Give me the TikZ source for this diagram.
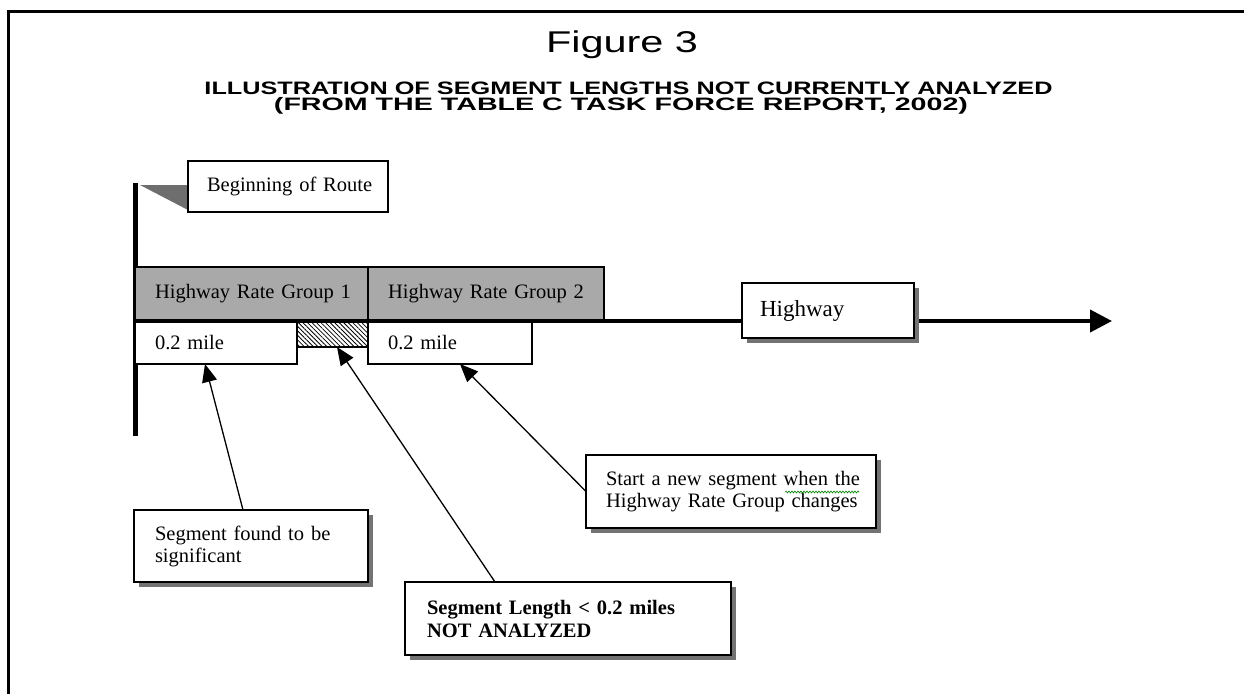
\documentclass[tikz,border=0pt]{standalone}
\usepackage{fontspec}
\usepackage{graphicx}
\setmainfont{Liberation Serif}[WordSpace=0.7]
\newfontfamily\titlefont{Liberation Sans}
\usetikzlibrary{arrows.meta,patterns.meta,shadows,decorations.pathmorphing}
\begin{document}
\begin{tikzpicture}[x=1pt,y=-1pt,
  every node/.style={inner sep=0pt, outer sep=0pt},
  box/.style={draw=black, line width=1.5pt, fill=white, align=left, inner ysep=0pt,
    font=\fontsize{20.5}{22}\selectfont},
  barbox/.style={box, fill=bargray},
  shadowed/.style={drop shadow={shadow xshift=5pt, shadow yshift=-5pt, fill=black!55, opacity=1}},
  callout/.style={line width=1.3pt, -{Triangle[length=18pt,width=15pt]}},
]
\definecolor{bargray}{HTML}{A9A9A9}
\definecolor{flaggray}{HTML}{6E6E6E}
\useasboundingbox (0,0) rectangle (1244,694);
% frame
\draw[line width=3pt] (8,694) -- (8,11) -- (1244,11);
% titles
\node (fig) at (622,45) {\resizebox{152pt}{\height}{\titlefont\fontsize{30}{30}\selectfont Figure 3}};
\node (sub1) at (628.5,88) {\resizebox{848pt}{\height}{\titlefont\bfseries\fontsize{18}{18}\selectfont ILLUSTRATION OF SEGMENT LENGTHS NOT CURRENTLY ANALYZED}};
\node (sub2) at (621,106) {\resizebox{694pt}{\height}{\titlefont\bfseries\fontsize{18}{18}\selectfont (FROM THE TABLE C TASK FORCE REPORT, 2002)}};
% pole and flag
\coordinate (poletop) at (135,183);
\coordinate (polebot) at (135,436);
\draw[line width=5pt] (poletop) -- (polebot);
\fill[flaggray] (140,185) -- (188,185) -- (188,210) -- cycle;
\node[box, minimum width=200pt, minimum height=51pt, text width=162pt, inner xsep=19pt] (begin) at (288,186.5) {\mbox{Beginning of Route}};
% rate group bar
\node[barbox, minimum width=233pt, minimum height=54pt, text width=193pt, inner xsep=20pt] (hrg1) at (251.5,294) {\mbox{Highway Rate Group 1}};
\node[barbox, minimum width=236pt, minimum height=54pt, text width=196pt, inner xsep=20pt] (hrg2) at (486,294) {\mbox{Highway Rate Group 2}};
% segments
\node[box, minimum width=162pt, minimum height=43pt, text width=122pt, inner xsep=20pt] (mile1) at (216,342.5) {\mbox{0.2 mile}};
\node[draw=black, line width=1.2pt, minimum width=71pt, minimum height=26pt,
  pattern={Lines[angle=-45,distance=3.2pt,line width=0.8pt]}] (hatch) at (332.5,334) {};
\node[box, minimum width=164pt, minimum height=43pt, text width=124pt, inner xsep=20pt] (mile2) at (450,342.5) {\raisebox{-3pt}{\mbox{0.2 mile}}};
% highway line
\coordinate (tip) at (1112,321);
\draw[line width=3.5pt] (hrg1.south west) -- (hrg2.south east);
\draw[line width=4pt, -{Triangle[length=22pt,width=22pt]}] (hrg2.south east) -- (tip);
\node[box, shadowed, minimum width=172pt, minimum height=55pt, text width=136pt, inner xsep=18pt,
  font=\fontsize{23}{25}\selectfont] (hwy) at (828,310.5) {\mbox{Highway}};
% callout boxes
\node[box, shadowed, minimum width=234pt, minimum height=72pt, text width=192pt, inner xsep=21pt] (sig) at (251,546)
  {\mbox{Segment found to be}\\\mbox{significant}};
\node[box, shadowed, minimum width=326pt, minimum height=73pt, text width=282pt, inner xsep=22pt,
  font=\fontsize{20.5}{23}\selectfont\bfseries] (na) at (568,618.5)
  {\mbox{Segment Length < 0.2 miles}\\\mbox{NOT ANALYZED}};
\node[box, shadowed, minimum width=290pt, minimum height=73pt, text width=250pt, inner xsep=20pt] (start) at (731,491.5)
  {\mbox{Start a new segment when the}\\\mbox{Highway Rate Group changes}};
\draw[green!55!black, line width=0.6pt, decorate, decoration={snake, amplitude=1pt, segment length=3pt}]
  (785,492) -- (859,492);
% callout arrows
\draw[callout] ([xshift=-8pt]sig.north) -- ([xshift=-11pt]mile1.south);
\draw[callout] ([xshift=-73pt]na.north) -- ([xshift=4.5pt]hatch.south);
\draw[callout] (start.west) -- ([xshift=10pt]mile2.south);
\end{tikzpicture}
\end{document}
